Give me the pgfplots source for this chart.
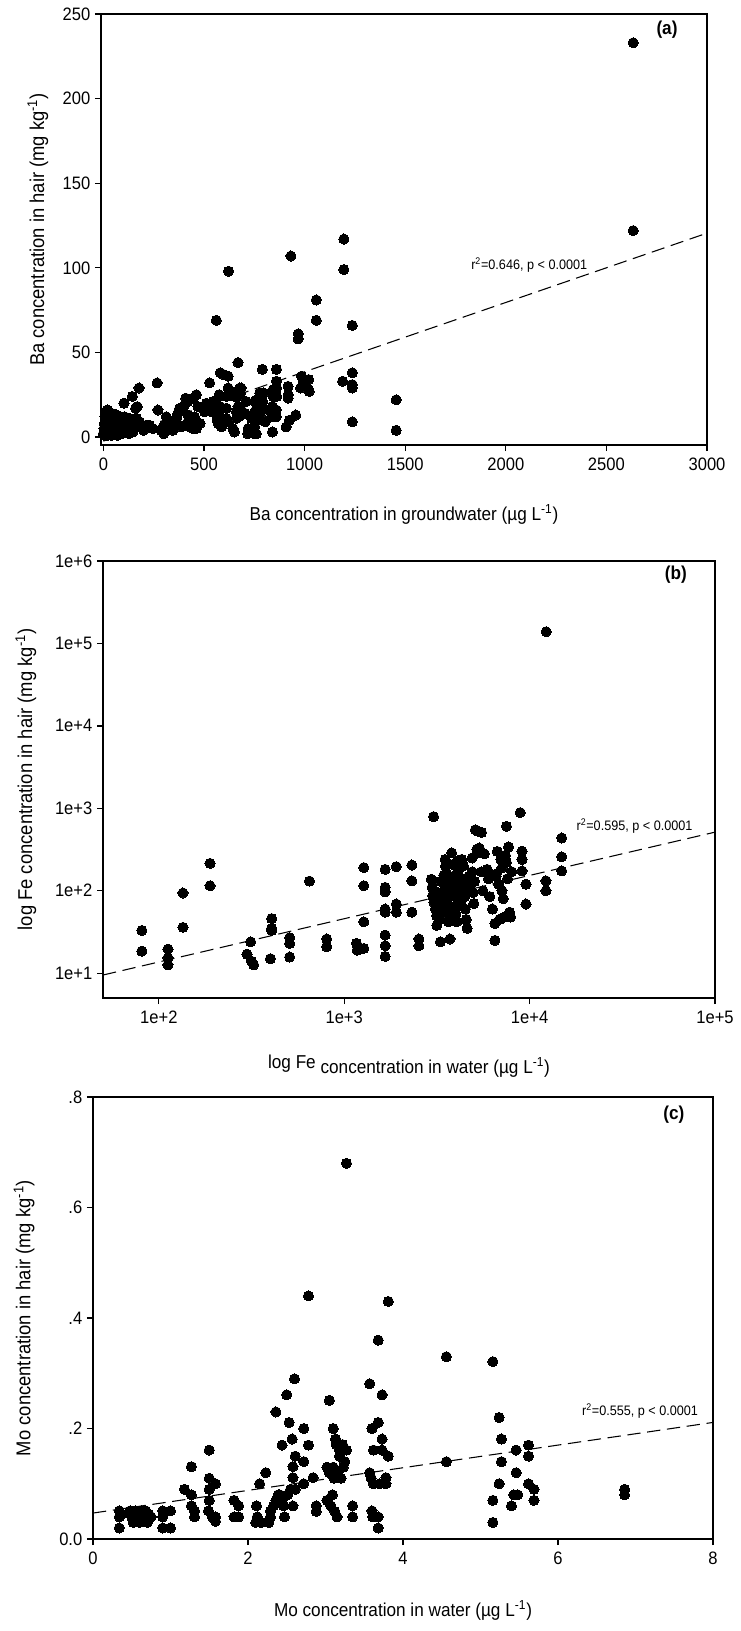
\documentclass[border=0pt]{standalone}
\usepackage{pgfplots}
\usepackage{pgfplotstable}
\pgfplotsset{compat=1.18}
\usepackage{fontspec}
\setmainfont{Liberation Sans}[FakeStretch=0.92]

\pgfplotstableread{
x y
0 2
3 5
5 8
6 1
8 12
10 4
12 15
14 7
16 3
18 10
20 16
22 1
24 6
26 13
28 2
30 9
33 4
35 11
38 7
40 1
42 14
45 5
48 9
50 3
53 12
55 6
58 2
60 10
63 4
66 13
68 7
70 1
73 11
76 5
79 9
82 3
85 12
88 6
90 2
93 10
96 4
100 8
102 20
105 12
108 3
112 6
115 10
118 5
122 9
127 2
130 11
135 7
140 4
144 24
146 3
150 8
160 17
165 11
168 18
175 6
177 29
180 9
200 4
215 7
229 7
245 5
267 32
271 16
287 4
296 6
300 2
304 7
312 12
321 10
330 5
337 9
345 4
350 7
362 11
370 14
379 7
379 17
387 6
395 17
404 19
409 23
420 21
420 13
420 9
429 6
435 10
445 23
445 5
453 12
462 25
462 5
470 18
480 8
503 15
512 20
528 32
535 19
537 15
545 21
561 69
563 13
565 10
570 8
570 14
575 25
578 24
581 18
581 38
587 6
595 37
603 9
611 17
611 11
611 24
617 9
620 36
620 29
622 98
636 26
643 25
644 5
651 3
651 24
661 15
661 11
669 24
669 18
669 44
674 12
678 29
681 26
681 17
684 29
705 14
710 21
717 2
719 5
736 11
744 3
750 2
752 21
752 14
752 10
752 6
758 16
760 2
761 22
764 10
777 26
777 22
780 13
789 18
790 40
792 21
797 26
804 9
823 16
835 12
840 18
840 3
843 28
843 24
859 12
859 16
860 40
860 33
861 29
861 24
908 6
918 30
918 25
918 23
925 10
932 107
956 13
968 61
968 58
980 29
985 36
993 32
1003 30
1020 28
1020 34
1023 27
1058 81
1058 69
1189 33
1195 117
1195 99
1237 66
1237 38
1237 31
1237 29
1237 9
1455 22
1455 4
2633 233
2633 122
}\dataA

\pgfplotstableread{
x y
81 33
81 18.5
112 19.6
112 15.4
112 12.6
135 94
135 36
189 215
189 115
299 17
313 24
316 14
325 12.6
406 46
406 35
400 15
406 33
508 27
508 23
508 15.7
649 131
804 26
804 21
1164 23
1175 19
1276 20
1276 191
1276 115
1276 42
1663 182
1663 110
1663 97
1663 60
1663 55
1663 29
1663 21.5
1663 16
1910 196
1910 69
1910 55
2317 205
2317 132
2317 55
2529 26
2529 21.5
3034 794
3300 24
3720 26
2950 138
2980 110
3000 87
3050 72
3100 60
3150 50
3160 38
3200 95
3250 45
3300 130
3300 65
3350 80
3400 55
3450 155
3500 240
3500 105
3520 200
3550 166
3550 126
3550 70
3580 100
3600 79
3620 66
3650 50
3650 42
3700 90
3750 60
3800 288
3850 209
3900 151
3900 115
3950 87
4000 66
4000 52
4050 42
4100 230
4100 130
4150 180
4200 100
4250 75
4300 240
4350 140
4400 200
4450 110
4470 85
4500 60
4550 45
4600 35
4700 150
4800 120
4900 250
4900 170
4950 95
5000 70
5050 130
5100 550
5200 320
5250 290
5300 525
5350 330
5400 300
5500 510
5500 170
5600 100
5700 280
5900 182
6000 140
6100 85
6300 60
6500 25
6500 40
6600 160
6600 150
6700 300
6800 120
6900 45
7000 240
7100 190
7100 100
7200 80
7300 48
7400 270
7500 220
7500 605
7600 140
7700 340
7800 55
7900 48
8000 170
9100 302
9100 240
9100 174
8900 887
9560 120
9560 69
12250 132
12250 100
14900 437
14900 258
14900 174
12280 138700
}\dataB

\pgfplotstableread{
x y
0.34 0.051
0.34 0.040
0.34 0.020
0.37 0.045
0.48 0.051
0.50 0.040
0.52 0.030
0.55 0.051
0.58 0.040
0.60 0.030
0.62 0.051
0.65 0.040
0.68 0.051
0.70 0.030
0.72 0.045
0.75 0.040
0.90 0.051
0.90 0.040
0.90 0.020
1.00 0.020
1.00 0.051
1.18 0.090
1.27 0.131
1.27 0.080
1.27 0.060
1.31 0.051
1.31 0.040
1.50 0.161
1.50 0.110
1.58 0.100
1.50 0.090
1.50 0.070
1.49 0.051
1.54 0.040
1.58 0.032
1.58 0.040
1.82 0.070
1.88 0.060
1.82 0.040
1.88 0.040
2.11 0.060
2.12 0.040
2.10 0.030
2.15 0.100
2.17 0.030
2.23 0.120
2.27 0.030
2.29 0.050
2.29 0.040
2.33 0.060
2.36 0.230
2.36 0.070
2.39 0.080
2.41 0.080
2.44 0.170
2.44 0.070
2.46 0.060
2.47 0.040
2.50 0.261
2.51 0.080
2.53 0.211
2.55 0.090
2.57 0.181
2.58 0.131
2.58 0.111
2.58 0.060
2.60 0.290
2.61 0.150
2.61 0.090
2.72 0.200
2.72 0.140
2.72 0.100
2.78 0.440
2.78 0.170
2.84 0.111
2.88 0.060
2.88 0.050
3.02 0.130
3.02 0.070
3.05 0.251
3.05 0.120
3.07 0.060
3.09 0.080
3.10 0.200
3.10 0.130
3.11 0.110
3.12 0.050
3.13 0.181
3.14 0.171
3.15 0.040
3.16 0.120
3.18 0.161
3.18 0.150
3.20 0.110
3.22 0.171
3.23 0.130
3.25 0.140
3.27 0.680
3.27 0.161
3.35 0.060
3.35 0.040
3.57 0.281
3.57 0.120
3.59 0.110
3.60 0.200
3.60 0.051
3.61 0.040
3.62 0.161
3.62 0.100
3.68 0.360
3.68 0.211
3.68 0.040
3.68 0.020
3.70 0.100
3.73 0.261
3.73 0.181
3.73 0.161
3.78 0.111
3.78 0.100
3.81 0.430
3.81 0.150
4.56 0.330
4.56 0.140
5.16 0.321
5.16 0.070
5.16 0.030
5.24 0.220
5.24 0.100
5.27 0.181
5.27 0.140
5.40 0.060
5.43 0.080
5.46 0.161
5.46 0.120
5.48 0.080
5.62 0.170
5.62 0.150
5.62 0.100
5.69 0.090
5.69 0.070
6.86 0.090
6.86 0.080
}\dataC

\pgfplotsset{
  panel/.style={
    scale only axis,
    clip=false,
    axis line style={line width=1pt},
    tick align=outside,
    xtick pos=lower, ytick pos=left,
    major tick length=4.5pt,
    every tick/.style={line width=1pt, black},
    tick label style={font=\fontsize{13.5}{15}\selectfont},
    xticklabel style={yshift=-2pt},
    xlabel style={font=\fontsize{14}{16}\selectfont},
    ylabel style={font=\fontsize{15}{17}\selectfont},
  },
  dots/.style={only marks, mark=*, mark size=3.8pt, mark options={fill=black, draw=black, line width=0pt}},
  fit/.style={black, line width=0.8pt, dash pattern=on 10pt off 5pt},
}
\tikzset{
  ann/.style={anchor=west, font=\fontsize{10.3}{12}\selectfont},
  plab/.style={font=\bfseries\fontsize{14}{16}\selectfont},
}

\begin{document}
\begin{tikzpicture}
\useasboundingbox (0,0) rectangle (555.75pt,-1223.25pt);

% (a)
\begin{axis}[panel,
  at={(75.75pt,-333.75pt)}, anchor=south west,
  width=454.5pt, height=323.25pt,
  xmin=-12, xmax=3000, ymin=-4.7, ymax=250,
  xtick={0,500,1000,1500,2000,2500,3000},
  xticklabels={0,500,1000,1500,2000,2500,3000},
  ytick={0,50,100,150,200,250},
  yticklabels={0,50,100,150,200,250},
  xlabel={Ba concentration in groundwater (µg L\textsuperscript{-1})},
  ylabel={Ba concentration in hair (mg kg\textsuperscript{-1})},
  xlabel style={at={(axis description cs:0.5,-0.16)}, anchor=center},
  ylabel style={at={(axis description cs:-0.104,0.5)}, anchor=center},
]
\addplot[dots] table {\dataA};
\addplot[fit] coordinates {(0,-2.4) (3000,120.5)};
\node[ann] at (axis cs:1805,101.5) {r\textsuperscript{2}=0.646, p < 0.0001};
\node[plab] at (rel axis cs:0.934,0.963) {(a)};
\end{axis}

% (b)
\begin{axis}[panel,
  at={(77.25pt,-748.5pt)}, anchor=south west,
  width=459pt, height=327.75pt,
  xmode=log, ymode=log,
  xmin=50, xmax=100000, ymin=5, ymax=1000000,
  xminorticks=false, yminorticks=false,
  xtick={100,1000,10000,100000},
  xticklabels={1e+2,1e+3,1e+4,1e+5},
  ytick={10,100,1000,10000,100000,1000000},
  yticklabels={1e+1,1e+2,1e+3,1e+4,1e+5,1e+6},
  xlabel={\raisebox{4pt}{log Fe} concentration in water (µg L\textsuperscript{-1})},
  ylabel={log Fe concentration in hair (mg kg\textsuperscript{-1})},
  xlabel style={at={(axis description cs:0.5,-0.156)}, anchor=center},
  ylabel style={at={(axis description cs:-0.126,0.5)}, anchor=center},
]
\addplot[dots] table {\dataB};
\addplot[fit] coordinates {(50,9.5) (100000,514)};
\node[ann] at (axis cs:16900,614) {r\textsuperscript{2}=0.595, p < 0.0001};
\node[plab] at (rel axis cs:0.936,0.968) {(b)};
\end{axis}

% (c)
\begin{axis}[panel,
  at={(69.75pt,-1154.25pt)}, anchor=south west,
  width=465pt, height=331.5pt,
  xmin=0, xmax=8, ymin=0, ymax=0.8,
  xtick={0,2,4,6,8},
  xticklabels={0,2,4,6,8},
  ytick={0,0.2,0.4,0.6,0.8},
  yticklabels={0.0,.2,.4,.6,.8},
  xlabel={Mo concentration in water (µg L\textsuperscript{-1})},
  ylabel={Mo concentration in hair (mg kg\textsuperscript{-1})},
  xlabel style={at={(axis description cs:0.5,-0.161)}, anchor=center},
  ylabel style={at={(axis description cs:-0.111,0.5)}, anchor=center},
]
\addplot[dots] table {\dataC};
\addplot[fit] coordinates {(0,0.047) (8,0.211)};
\node[ann] at (axis cs:6.25,0.232) {r\textsuperscript{2}=0.555, p < 0.0001};
\node[plab] at (rel axis cs:0.937,0.959) {(c)};
\end{axis}
\end{tikzpicture}
\end{document}
